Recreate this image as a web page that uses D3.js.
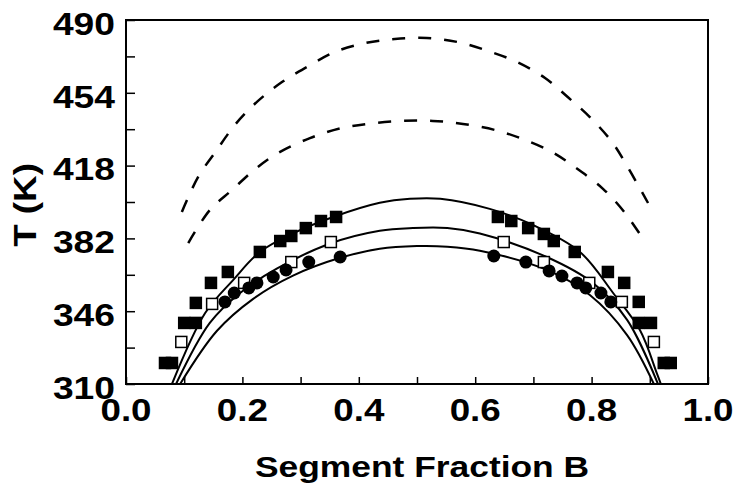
<!DOCTYPE html>
<html>
<head>
<meta charset="utf-8">
<script src="https://cdn.jsdelivr.net/npm/d3@7"></script>
<style>
  body { margin: 0; background: #fff; }
  svg text { font-family: "Liberation Sans", Arial, sans-serif; font-weight: bold; fill: #000; }
</style>
</head>
<body>
<svg id="graph" width="736" height="487"></svg>
<script>
/*******************************************************************************************/
// Data: segment fraction B vs temperature (K)

var xTicks = [0, 0.1, 0.2, 0.3, 0.4, 0.5, 0.6, 0.7, 0.8, 0.9, 1.0];
var xTickLabels = [0, 0.2, 0.4, 0.6, 0.8, 1.0];
var yTicks = [310, 328, 346, 364, 382, 400, 418, 436, 454, 472, 490];
var yTickLabels = [310, 346, 382, 418, 454, 490];

// filled squares
var filledSqX = [0.067, 0.079, 0.100, 0.120, 0.120, 0.146, 0.175, 0.230, 0.265, 0.284, 0.309, 0.335, 0.361,
                 0.639, 0.662, 0.691, 0.718, 0.735, 0.771, 0.828, 0.856, 0.881, 0.881, 0.902, 0.924, 0.936];
var filledSqT = [320.4, 320.4, 340.2, 340.2, 350.1, 360.0, 365.4, 375.3, 380.7, 383.2, 387.1, 390.6, 392.6,
                 392.6, 390.6, 387.1, 384.2, 380.7, 375.3, 365.4, 360.0, 350.6, 340.2, 340.2, 320.4, 320.4];

// open squares
var openSqX = [0.095, 0.148, 0.203, 0.284, 0.352, 0.649, 0.718, 0.796, 0.852, 0.907];
var openSqT = [330.8, 349.6, 360.0, 370.3, 380.2, 380.2, 370.3, 360.0, 350.6, 330.8];

// filled circles
var circleX = [0.170, 0.186, 0.211, 0.225, 0.253, 0.275, 0.314, 0.368,
               0.632, 0.687, 0.727, 0.749, 0.775, 0.790, 0.816, 0.833];
var circleT = [350.6, 355.0, 357.5, 360.0, 362.9, 366.4, 370.3, 372.8,
               373.3, 370.3, 365.9, 363.4, 360.0, 357.5, 355.0, 350.6];

// solid curves
var solidTopX = [0.079, 0.136, 0.184, 0.230, 0.287, 0.356, 0.436, 0.488, 0.540, 0.625, 0.700, 0.780, 0.837, 0.883, 0.912, 0.919];
var solidTopT = [310.0, 345.1, 361.4, 375.3, 384.5, 392.6, 399.6, 401.6, 401.6, 396.6, 388.5, 375.3, 355.0, 336.7, 315.4, 310.0];

var solidMidX = [0.086, 0.144, 0.196, 0.259, 0.351, 0.436, 0.493, 0.552, 0.608, 0.723, 0.802, 0.861, 0.914];
var solidMidT = [310.0, 340.2, 355.0, 367.0, 379.5, 385.8, 387.1, 387.1, 384.4, 372.8, 360.0, 341.7, 310.0];

var solidLowX = [0.093, 0.156, 0.218, 0.287, 0.368, 0.436, 0.500, 0.552, 0.608, 0.723, 0.797, 0.861, 0.907];
var solidLowT = [310.0, 336.2, 352.0, 363.6, 372.4, 376.9, 378.2, 377.9, 375.9, 366.4, 354.0, 334.2, 310.0];

// dashed curves
var dashTopX = [0.096, 0.124, 0.156, 0.187, 0.225, 0.268, 0.311, 0.359, 0.411, 0.462, 0.517, 0.570, 0.622, 0.672, 0.720, 0.759, 0.797, 0.835, 0.863, 0.897];
var dashTopT = [395.1, 412.4, 425.7, 438.1, 449.5, 459.3, 466.8, 474.2, 478.6, 480.6, 481.1, 479.1, 474.7, 469.2, 461.3, 451.9, 442.0, 429.7, 416.8, 399.5];

var dashLowX = [0.107, 0.144, 0.182, 0.222, 0.261, 0.316, 0.371, 0.423, 0.476, 0.527, 0.579, 0.634, 0.682, 0.732, 0.771, 0.820, 0.856, 0.892];
var dashLowT = [379.7, 396.0, 405.9, 416.3, 424.2, 431.6, 436.6, 438.9, 440.1, 440.1, 438.6, 435.6, 431.1, 424.7, 417.3, 406.4, 395.1, 380.2];

/*******************************************************************************************/
// Scales and frame

var svg = d3.select('#graph');
var box = { left: 126, right: 708, top: 20, bottom: 384 };
var stretch = 1.15;   // the lettering is set wide

var xScale = d3.scaleLinear().domain([0, 1]).range([box.left, box.right]);
var yScale = d3.scaleLinear().domain([310, 490]).range([box.bottom, box.top]);

function pts(xs, ts){ return xs.map(function(x, i){ return [xScale(x), yScale(ts[i])]; }); }

var lineGen = d3.line().curve(d3.curveCatmullRom.alpha(0.5));

var plot = svg.append('g');
plot.append('defs').append('clipPath').attr('id', 'clip')
  .append('rect').attr('x', box.left).attr('y', box.top)
  .attr('width', box.right - box.left).attr('height', box.bottom - box.top);

/*******************************************************************************************/
// Curves

var curves = plot.append('g').attr('clip-path', 'url(#clip)');

[[solidTopX, solidTopT], [solidMidX, solidMidT], [solidLowX, solidLowT]].forEach(function(c){
  curves.append('path').attr('d', lineGen(pts(c[0], c[1])))
    .attr('fill', 'none').attr('stroke', '#000').attr('stroke-width', 2);
});

[[dashTopX, dashTopT], [dashLowX, dashLowT]].forEach(function(c){
  curves.append('path').attr('d', lineGen(pts(c[0], c[1])))
    .attr('fill', 'none').attr('stroke', '#000').attr('stroke-width', 2.5)
    .attr('stroke-dasharray', '13,13');
});

/*******************************************************************************************/
// Markers

var sq = 12.5;
plot.selectAll('.fsq').data(pts(filledSqX, filledSqT)).enter().append('rect')
  .attr('class', 'fsq')
  .attr('x', function(d){ return d[0] - sq/2; }).attr('y', function(d){ return d[1] - sq/2; })
  .attr('width', sq).attr('height', sq).attr('fill', '#000');

plot.selectAll('.osq').data(pts(openSqX, openSqT)).enter().append('rect')
  .attr('class', 'osq')
  .attr('x', function(d){ return d[0] - 5.5; }).attr('y', function(d){ return d[1] - 5.5; })
  .attr('width', 11).attr('height', 11).attr('fill', '#fff').attr('stroke', '#000').attr('stroke-width', 1.5);

plot.selectAll('.circ').data(pts(circleX, circleT)).enter().append('circle')
  .attr('class', 'circ')
  .attr('cx', function(d){ return d[0]; }).attr('cy', function(d){ return d[1]; })
  .attr('r', 6.5).attr('fill', '#000');

/*******************************************************************************************/
// Axes

var xAxis = svg.append('g').attr('transform', 'translate(0,' + box.bottom + ')')
  .call(d3.axisBottom(xScale).tickValues(xTicks).tickSize(-7).tickFormat(''));
var yAxis = svg.append('g').attr('transform', 'translate(' + box.left + ',0)')
  .call(d3.axisLeft(yScale).tickValues(yTicks).tickSize(-9).tickFormat(''));
[xAxis, yAxis].forEach(function(a){
  a.select('.domain').remove();
  a.selectAll('.tick line').attr('stroke', '#000').attr('stroke-width', 1.5);
});

svg.append('rect').attr('x', box.left).attr('y', box.top)
  .attr('width', box.right - box.left).attr('height', box.bottom - box.top)
  .attr('fill', 'none').attr('stroke', '#000').attr('stroke-width', 2);

svg.selectAll('.xlab').data(xTickLabels).enter().append('text')
  .attr('class', 'xlab')
  .attr('transform', function(d){ return 'translate(' + xScale(d) + ',421) scale(' + stretch + ',1)'; })
  .attr('text-anchor', 'middle').style('font-size', '32px')
  .text(function(d){ return d3.format('.1f')(d); });

svg.selectAll('.ylab').data(yTickLabels).enter().append('text')
  .attr('class', 'ylab')
  .attr('transform', function(d){ return 'translate(115,' + (yScale(d) + 4) + ') scale(' + (stretch + 0.05) + ',1)'; })
  .attr('dy', '0.35em')
  .attr('text-anchor', 'end').style('font-size', '31px')
  .text(function(d){ return d; });

svg.append('text').attr('transform', 'translate(422,477) scale(' + (stretch + 0.03) + ',1)')
  .attr('text-anchor', 'middle').style('font-size', '30px')
  .text('Segment Fraction B');

svg.append('text').attr('transform', 'translate(36,205) rotate(-90) scale(' + stretch + ',1)')
  .attr('text-anchor', 'middle').style('font-size', '32px')
  .text('T (K)');
</script>
</body>
</html>
